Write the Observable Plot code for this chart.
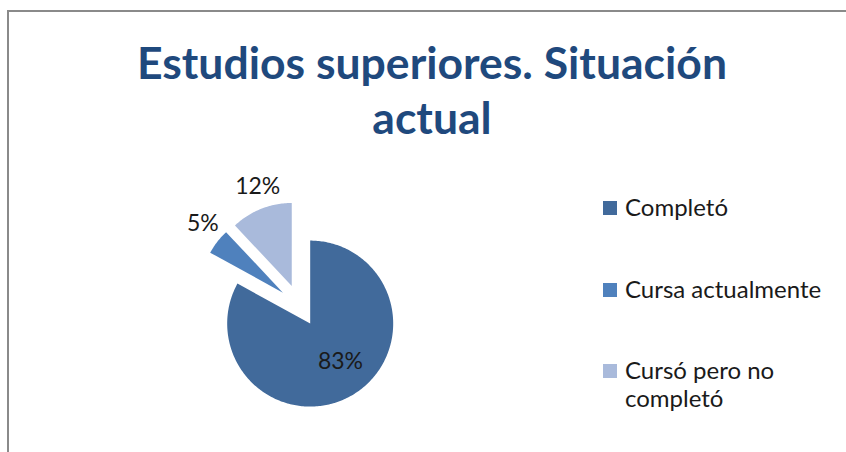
<!DOCTYPE html>
<html>
<head>
<meta charset="utf-8">
<script src="https://cdn.jsdelivr.net/npm/d3@7"></script>
<script src="https://cdn.jsdelivr.net/npm/@observablehq/plot@0.6"></script>
<style>
  html, body { margin: 0; padding: 0; background: #fff; overflow: hidden; }
  #chart { position: relative; width: 846px; height: 452px; overflow: hidden; font-family: Lato, "Open Sans", sans-serif; }
  #frame { position: absolute; left: 7px; top: 10px; width: 900px; height: 500px;
           border-top: 2px solid #8a8a8a; border-left: 2px solid #8a8a8a; }
  #title { position: absolute; left: 0; width: 864px; top: 34px; text-align: center;
           font-weight: 700; font-size: 44.5px; line-height: 55px; color: #1f497d; }
  #pie { position: absolute; left: 149px; top: 155px; }
  .lg-row { position: absolute; left: 603px; width: 240px; }
  .lg-sw { position: absolute; left: 0; top: 8px; width: 14px; height: 14px; }
  .lg-tx { position: absolute; left: 22px; top: 0; width: 200px; font-size: 24px; line-height: 28px; color: #1a1a1a; }
</style>
</head>
<body>
<div id="chart">
  <div id="frame"></div>
  <div id="title"></div>
  <div id="pie"></div>
  <div id="legend"></div>
</div>
<script>
// ---- data ----
const titleLines = ["Estudios superiores. Situación", "actual"];
const categories = ["Completó", "Cursa actualmente", "Cursó pero no completó"];
const values = [83, 5, 12];
const palette = ["#416a9b", "#4f81bd", "#a9badb"];

// ---- title ----
document.getElementById("title").innerHTML = titleLines.join("<br>");

// ---- pie geometry (computed from values) ----
const rows = categories.map((c, i) => ({cat: c, value: values[i]}));
const total = d3.sum(values);
const arcs = d3.pie().sort(null).value(d => d.value)(rows);
const R = 83, EX = 21;
const pts = [];
const labels = [];
arcs.forEach(a => {
  const mid = (a.startAngle + a.endAngle) / 2;
  const ox = EX * Math.sin(mid), oy = -EX * Math.cos(mid);
  pts.push({cat: a.data.cat, x: ox, y: oy});
  const n = Math.max(2, Math.ceil((a.endAngle - a.startAngle) / (Math.PI / 180)));
  for (let i = 0; i <= n; i++) {
    const t = a.startAngle + (a.endAngle - a.startAngle) * i / n;
    pts.push({cat: a.data.cat, x: ox + R * Math.sin(t), y: oy - R * Math.cos(t)});
  }
  const frac = a.data.value / total;
  const big = frac > 0.5;
  const r = big ? EX + 0.58 * R : EX + 1.27 * R;
  const ang = big ? mid - 0.1 : mid + 0.04;
  labels.push({x: r * Math.sin(ang), y: -r * Math.cos(ang), text: Math.round(frac * 100) + "%"});
});

const plot = Plot.plot({
  width: 300,
  height: 300,
  margin: 0,
  x: {domain: [-150, 150], axis: null},
  y: {domain: [150, -150], axis: null},
  color: {domain: categories, range: palette},
  style: {background: "transparent", fontFamily: "Lato, 'Open Sans', sans-serif", overflow: "visible"},
  marks: [
    Plot.line(pts, {x: "x", y: "y", z: "cat", fill: "cat", stroke: "none", curve: "linear-closed"}),
    Plot.text(labels, {x: "x", y: "y", text: "text", fontSize: 23, fill: "#1a1a1a"})
  ]
});
document.getElementById("pie").appendChild(plot);

// ---- legend ----
const legend = document.getElementById("legend");
categories.forEach((c, i) => {
  const row = document.createElement("div");
  row.className = "lg-row";
  row.style.top = (193 + i * 81.5) + "px";
  const sw = document.createElement("div");
  sw.className = "lg-sw";
  sw.style.background = palette[i];
  const tx = document.createElement("div");
  tx.className = "lg-tx";
  tx.textContent = c;
  row.appendChild(sw);
  row.appendChild(tx);
  legend.appendChild(row);
});
</script>
</body>
</html>
